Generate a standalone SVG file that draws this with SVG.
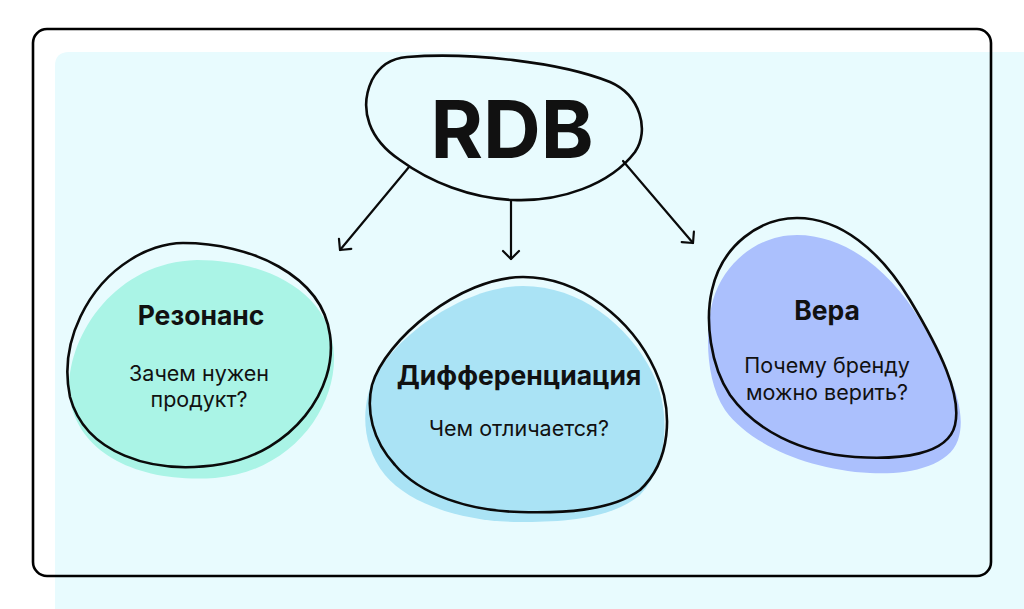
<svg xmlns="http://www.w3.org/2000/svg" width="1024" height="609" viewBox="0 0 1024 609">
<style>
.ol{fill:none;stroke:#0a0a0a;stroke-width:2.6;stroke-linejoin:round}
.t{font-family:Inter,"Liberation Sans",sans-serif;fill:#111;text-anchor:middle}
.h{font-weight:700;font-size:26.5px}
.s{font-size:21.5px}
.con{fill:none;stroke:#0a0a0a;stroke-width:2.2;stroke-linecap:round}
</style>
<defs>
<marker id="chev" markerUnits="userSpaceOnUse" markerWidth="20" markerHeight="20" refX="8" refY="8" orient="auto" overflow="visible">
<path d="M 0 0 L 8 8 L 0 16" fill="none" stroke="#0a0a0a" stroke-width="2.2" stroke-linecap="round" stroke-linejoin="round"/>
</marker>
</defs>
<rect width="1024" height="609" fill="#ffffff"/>
<path d="M 55 66 Q 55 52 69 52 L 1024 52 L 1024 609 L 55 609 Z" fill="#e8fbfe"/>
<rect x="33" y="29" width="958" height="547" rx="14" fill="none" stroke="#000" stroke-width="2.6"/>
<g id="connectors">
<line class="con" x1="409" y1="167" x2="340" y2="250" marker-end="url(#chev)"/>
<line class="con" x1="511" y1="201" x2="511" y2="259" marker-end="url(#chev)"/>
<line class="con" x1="623" y1="161" x2="693" y2="243" marker-end="url(#chev)"/>
</g>
<g id="node-rdb">
<path class="ol" d="M 407 57 C 470 52, 560 62, 610 82 C 640 95, 650 130, 635 152 C 610 185, 560 202, 513 200 C 470 198, 430 182, 400 160 C 370 140, 358 110, 372 80 C 380 65, 393 58, 407 57 Z" fill="#e8fbfe"/>
<text class="t" x="512" y="158" font-size="80" font-weight="700">RDB</text>
</g>
<g id="node-rezonans">
<path d="M 197 260 C 270 260, 332 295, 334 355 C 336 410, 290 472, 215 478 C 140 483, 80 455, 70 400 C 62 345, 110 262, 197 260 Z" fill="#aaf4e6"/>
<path class="ol" d="M 183 243 C 250 243, 322 275, 330 335 C 338 390, 292 452, 222 464 C 150 476, 85 452, 70 397 C 58 340, 90 285, 130 260 C 145 250, 165 243, 183 243 Z"/>
<text class="t h" x="201" y="325">Резонанс</text>
<text class="t s" x="199" y="381">Зачем нужен</text>
<text class="t s" x="199" y="407">продукт?</text>
</g>
<g id="node-diff">
<path d="M 523 286 C 580 286, 628 325, 652 372 C 672 412, 668 465, 640 495 C 610 520, 560 522, 520 522 C 465 522, 410 505, 385 475 C 365 450, 362 420, 368 395 C 380 345, 460 286, 523 286 Z" fill="#aae3f5"/>
<path class="ol" d="M 523 277 C 580 277, 632 320, 655 370 C 675 412, 670 462, 640 490 C 610 512, 560 513, 520 512 C 470 511, 420 495, 395 465 C 372 440, 366 410, 372 385 C 385 340, 460 277, 523 277 Z"/>
<text class="t h" x="519" y="385">Дифференциация</text>
<text class="t s" x="519" y="436">Чем отличается?</text>
</g>
<g id="node-vera">
<path d="M 797 235 C 845 235, 890 270, 920 320 C 950 370, 968 410, 958 440 C 948 468, 905 475, 870 473 C 810 470, 750 445, 725 410 C 705 380, 705 330, 713 300 C 725 260, 760 235, 797 235 Z" fill="#abc0fd"/>
<path class="ol" d="M 797 218 C 840 218, 880 250, 910 300 C 940 350, 962 395, 955 425 C 948 455, 900 460, 855 457 C 800 453, 755 430, 730 395 C 710 365, 705 320, 712 290 C 722 245, 760 218, 797 218 Z"/>
<text class="t h" x="827" y="320">Вера</text>
<text class="t s" x="827" y="373">Почему бренду</text>
<text class="t s" x="827" y="400">можно верить?</text>
</g>
</svg>
